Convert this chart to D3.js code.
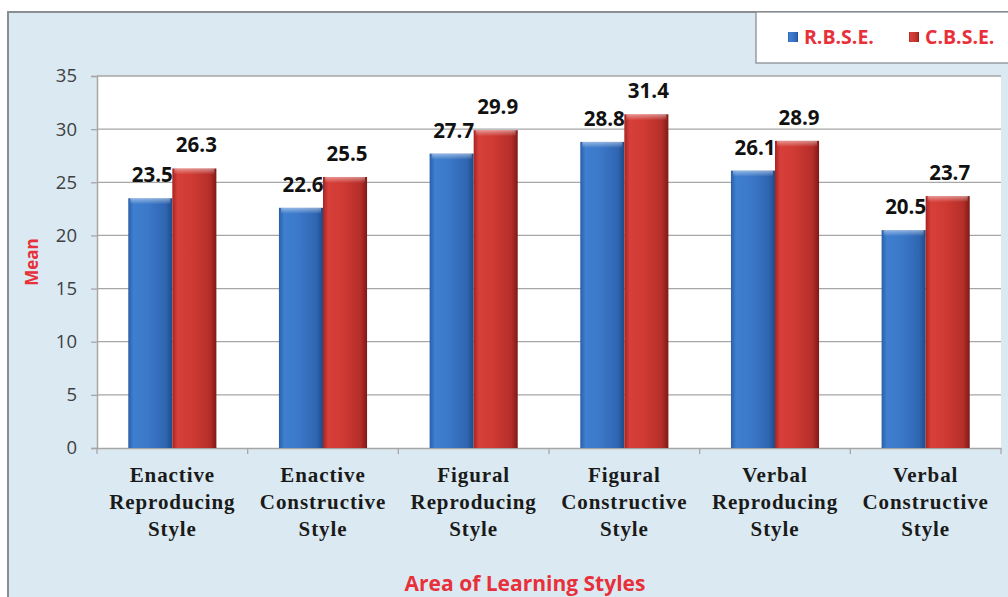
<!DOCTYPE html>
<html>
<head>
<meta charset="utf-8">
<script src="https://cdn.jsdelivr.net/npm/d3@7"></script>
<style>
  html, body { margin: 0; padding: 0; background: #ffffff; }
  svg { display: block; }
</style>
</head>
<body>
<script>
// Mean scores by area of learning style, R.B.S.E. vs C.B.S.E.
const categories = [
  ["Enactive", "Reproducing", "Style"],
  ["Enactive", "Constructive", "Style"],
  ["Figural", "Reproducing", "Style"],
  ["Figural", "Constructive", "Style"],
  ["Verbal", "Reproducing", "Style"],
  ["Verbal", "Constructive", "Style"]
];
const seriesNames = ["R.B.S.E.", "C.B.S.E."];
const rbse = [23.5, 22.6, 27.7, 28.8, 26.1, 20.5];
const cbse = [26.3, 25.5, 29.9, 31.4, 28.9, 23.7];
const yTicks = [0, 5, 10, 15, 20, 25, 30, 35];

const W = 1008, H = 597;
const plot = { left: 97, right: 1001, top: 76, bottom: 448 };

const svg = d3.select("body").append("svg").attr("width", W).attr("height", H);
const defs = svg.append("defs");

function barGradient(id, stops) {
  const g = defs.append("linearGradient").attr("id", id)
    .attr("x1", "0%").attr("x2", "100%").attr("y1", "0%").attr("y2", "0%");
  stops.forEach(([o, c]) => g.append("stop").attr("offset", o).attr("stop-color", c));
}
barGradient("gBlue", [["0%", "#2a5fa8"], ["12%", "#3f7fd0"], ["45%", "#3b78c8"], ["85%", "#2f66b2"], ["100%", "#1f4a88"]]);
barGradient("gRed", [["0%", "#a8231f"], ["12%", "#d7403a"], ["45%", "#cf3a33"], ["85%", "#b52e29"], ["100%", "#7e1a17"]]);
const topGrad = defs.append("linearGradient").attr("id", "gTop")
  .attr("x1", "0").attr("x2", "0").attr("y1", "0").attr("y2", "1");
topGrad.append("stop").attr("offset", "0%").attr("stop-color", "#ffffff").attr("stop-opacity", 0.45);
topGrad.append("stop").attr("offset", "100%").attr("stop-color", "#ffffff").attr("stop-opacity", 0);

// Chart background and frame
svg.append("rect").attr("x", 0).attr("y", 0).attr("width", W).attr("height", H).attr("fill", "#ffffff");
svg.append("rect").attr("x", 8).attr("y", 12).attr("width", W + 10).attr("height", H + 10)
  .attr("fill", "#dbeaf2").attr("stroke", "#8a8e92").attr("stroke-width", 2);

// Plot area
svg.append("rect").attr("x", plot.left).attr("y", plot.top)
  .attr("width", plot.right - plot.left).attr("height", plot.bottom - plot.top)
  .attr("fill", "#ffffff");

const x = d3.scaleBand().domain(d3.range(categories.length))
  .range([plot.left, plot.right]).paddingInner(0).paddingOuter(0);
const y = d3.scaleLinear().domain([0, 35]).range([plot.bottom, plot.top]);
const xs = d3.scaleBand().domain([0, 1]).range([0, x.bandwidth()]).paddingInner(0).paddingOuter(0.71);

// Gridlines
svg.append("g").selectAll("line").data(yTicks.filter(t => t > 0)).join("line")
  .attr("x1", plot.left).attr("x2", plot.right)
  .attr("y1", d => y(d)).attr("y2", d => y(d))
  .attr("stroke", "#a6a6a6").attr("stroke-width", 1.3);

// Y axis
const yAxis = svg.append("g").attr("transform", `translate(${plot.left},0)`)
  .call(d3.axisLeft(y).tickValues(yTicks).tickSize(6).tickPadding(14));
yAxis.select(".domain").attr("stroke", "#a6a6a6").attr("stroke-width", 1.5);
yAxis.selectAll(".tick line").attr("stroke", "#a6a6a6").attr("stroke-width", 1.3);
yAxis.selectAll(".tick text").attr("fill", "#404040")
  .style("font-family", "'Open Sans', 'Liberation Sans', sans-serif").style("font-size", "18.5px");

// X axis
const xAxis = svg.append("g").attr("transform", `translate(0,${plot.bottom})`)
  .call(d3.axisBottom(x).tickValues([]).tickSizeOuter(0));
xAxis.select(".domain").attr("stroke", "#a6a6a6").attr("stroke-width", 1.5);
svg.append("g").selectAll("line").data(d3.range(categories.length + 1)).join("line")
  .attr("x1", d => plot.left + d * x.bandwidth()).attr("x2", d => plot.left + d * x.bandwidth())
  .attr("y1", plot.bottom).attr("y2", plot.bottom + 6)
  .attr("stroke", "#a6a6a6").attr("stroke-width", 1.3);

// Bars
const rows = categories.map((c, i) => [
  { i, s: 0, v: rbse[i] },
  { i, s: 1, v: cbse[i] }
]).flat();

const bars = svg.append("g").selectAll("g").data(rows).join("g");
bars.append("rect")
  .attr("x", d => x(d.i) + xs(d.s)).attr("width", xs.bandwidth())
  .attr("y", d => y(d.v)).attr("height", d => y(0) - y(d.v))
  .attr("fill", d => d.s === 0 ? "url(#gBlue)" : "url(#gRed)");
bars.append("rect")
  .attr("x", d => x(d.i) + xs(d.s) + 2).attr("width", xs.bandwidth() - 4)
  .attr("y", d => y(d.v)).attr("height", 6)
  .attr("fill", "url(#gTop)");

// Value labels
svg.append("g").selectAll("text").data(rows).join("text")
  .attr("x", d => x(d.i) + xs(d.s) + xs.bandwidth() / 2 + (d.s === 0 ? 2 : 2))
  .attr("y", d => y(d.v) - 16)
  .attr("text-anchor", "middle")
  .attr("fill", "#111111")
  .style("font-family", "'Open Sans', 'Liberation Sans', sans-serif")
  .style("font-size", "20.5px").style("font-weight", "bold")
  .text(d => d.v.toFixed(1));

// Category labels
const catG = svg.append("g").selectAll("text").data(categories).join("text")
  .attr("text-anchor", "middle")
  .attr("fill", "#1a1a1a")
  .style("font-family", "'Liberation Serif', 'DejaVu Serif', serif")
  .style("font-size", "21px").style("font-weight", "bold")
  .style("letter-spacing", "0.9px");
catG.selectAll("tspan").data((d, i) => d.map(t => ({ t, i }))).join("tspan")
  .attr("x", d => x(d.i) + x.bandwidth() / 2)
  .attr("y", (d, k) => 482 + k * 27)
  .text(d => d.t);

// Axis titles
svg.append("text")
  .attr("transform", `translate(38,${(plot.top + plot.bottom) / 2}) rotate(-90)`)
  .attr("text-anchor", "middle")
  .attr("fill", "#e8303a")
  .style("font-family", "'Open Sans', 'Liberation Sans', sans-serif")
  .style("font-size", "17px").style("font-weight", "bold")
  .text("Mean");
svg.append("text")
  .attr("x", 525).attr("y", 591)
  .attr("text-anchor", "middle")
  .attr("fill", "#e8303a")
  .style("font-family", "'Open Sans', 'Liberation Sans', sans-serif")
  .style("font-size", "21px").style("font-weight", "bold")
  .text("Area of Learning Styles");

// Legend
svg.append("rect").attr("x", 756).attr("y", 12).attr("width", 270).attr("height", 51)
  .attr("fill", "#ffffff").attr("stroke", "#8a8e92").attr("stroke-width", 1.3);
const legend = svg.append("g").selectAll("g").data(seriesNames).join("g")
  .attr("transform", (d, i) => `translate(${788 + i * 121},37)`);
legend.append("rect").attr("x", 0).attr("y", -5).attr("width", 10).attr("height", 10)
  .attr("fill", (d, i) => i === 0 ? "url(#gBlue)" : "url(#gRed)");
legend.append("text").attr("x", 16).attr("y", 7)
  .attr("fill", "#e8303a")
  .style("font-family", "'Open Sans', 'Liberation Sans', sans-serif")
  .style("font-size", "19.5px").style("font-weight", "bold")
  .text(d => d);
</script>
</body>
</html>
